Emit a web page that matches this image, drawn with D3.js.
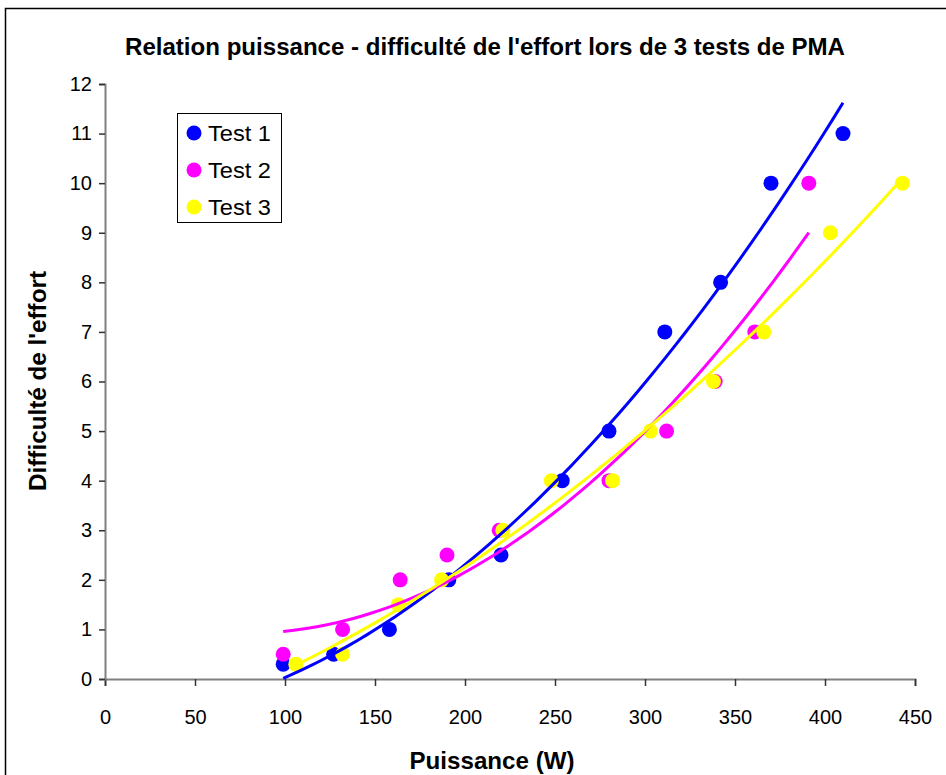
<!DOCTYPE html>
<html><head><meta charset="utf-8">
<script src="https://cdn.jsdelivr.net/npm/d3@7/dist/d3.min.js"></script>
<style>body{margin:0;background:#fff}svg{display:block}</style>
</head><body>
<svg id="chart" width="946" height="775"></svg>
<script>
const titleText = "Relation puissance - difficulté de l'effort lors de 3 tests de PMA";
const xAxisTitle = "Puissance (W)";
const yAxisTitle = "Difficulté de l'effort";
const seriesNames = ["Test 1", "Test 2", "Test 3"];
const seriesColors = ["#0000FF", "#FF00FF", "#FFFF00"];
const test1X = [99, 127, 158, 191, 220, 254, 280, 311, 342, 370, 410];
const test1Y = [0.3, 0.5, 1, 2, 2.5, 4, 5, 7, 8, 10, 11];
const test2X = [99, 132, 164, 190, 219, 280, 312, 339, 361, 391];
const test2Y = [0.5, 1, 2, 2.5, 3, 4, 5, 6, 7, 10];
const test3X = [106, 132, 163, 187, 221, 248, 282, 303, 338, 366, 403, 443];
const test3Y = [0.3, 0.5, 1.5, 2, 3, 4, 4, 5, 6, 7, 9, 10];
const xTicks = [0, 50, 100, 150, 200, 250, 300, 350, 400, 450];
const yTicks = [0, 1, 2, 3, 4, 5, 6, 7, 8, 9, 10, 11, 12];

const series = [
  {name: seriesNames[0], color: seriesColors[0], xs: test1X, ys: test1Y},
  {name: seriesNames[1], color: seriesColors[1], xs: test2X, ys: test2Y},
  {name: seriesNames[2], color: seriesColors[2], xs: test3X, ys: test3Y}
];

// least-squares polynomial (order 2) trend line, as in the original spreadsheet
function quadFit(xs, ys) {
  let s = [0,0,0,0,0], t = [0,0,0];
  xs.forEach((x, i) => {
    for (let k = 0; k < 5; k++) s[k] += Math.pow(x, k);
    for (let k = 0; k < 3; k++) t[k] += ys[i] * Math.pow(x, k);
  });
  const A = [[s[0], s[1], s[2], t[0]], [s[1], s[2], s[3], t[1]], [s[2], s[3], s[4], t[2]]];
  for (let i = 0; i < 3; i++) {
    for (let j = i + 1; j < 3; j++) {
      const f = A[j][i] / A[i][i];
      for (let k = i; k < 4; k++) A[j][k] -= f * A[i][k];
    }
  }
  const c = [0,0,0];
  for (let i = 2; i >= 0; i--) {
    let v = A[i][3];
    for (let k = i + 1; k < 3; k++) v -= A[i][k] * c[k];
    c[i] = v / A[i][i];
  }
  return x => c[0] + c[1] * x + c[2] * x * x;
}

const svg = d3.select("#chart");
const font = "'Liberation Sans', Arial, sans-serif";
const L = 105, R = 915, T = 84, B = 679;
const x = d3.scaleLinear().domain([0, 450]).range([L, R]);
const y = d3.scaleLinear().domain([0, 12]).range([B, T]);

svg.append("rect").attr("x", 5.5).attr("y", 8.5).attr("width", 960).attr("height", 800)
  .attr("fill", "#fff").attr("stroke", "#000").attr("stroke-width", 1.5);

svg.append("text").attr("x", 485).attr("y", 55).attr("text-anchor", "middle")
  .attr("font-family", font).attr("font-weight", "bold").attr("font-size", 23)
  .attr("textLength", 720).attr("lengthAdjust", "spacingAndGlyphs")
  .text(titleText);

// x axis
const xAxis = svg.append("g").attr("transform", `translate(0,${B})`)
  .call(d3.axisBottom(x).tickValues(xTicks).tickSize(7).tickPadding(24).tickFormat(d3.format("d")));
xAxis.select(".domain").attr("stroke", "#808080").attr("stroke-width", 2);
xAxis.selectAll(".tick line").attr("stroke", "#333").attr("stroke-width", 1.5);
xAxis.selectAll(".tick text").attr("font-family", font).attr("font-size", 20).attr("fill", "#000");

// y axis
const yAxis = svg.append("g").attr("transform", `translate(${L},0)`)
  .call(d3.axisLeft(y).tickValues(yTicks).tickSize(6).tickPadding(7).tickFormat(d3.format("d")));
yAxis.select(".domain").attr("stroke", "#808080").attr("stroke-width", 2);
yAxis.selectAll(".tick line").attr("stroke", "#333").attr("stroke-width", 1.5);
yAxis.selectAll(".tick text").attr("font-family", font).attr("font-size", 20).attr("fill", "#000");

svg.append("text").attr("x", 492).attr("y", 769).attr("text-anchor", "middle")
  .attr("font-family", font).attr("font-weight", "bold").attr("font-size", 24)
  .attr("textLength", 165).attr("lengthAdjust", "spacingAndGlyphs")
  .text(xAxisTitle);
svg.append("text").attr("transform", "translate(46,381) rotate(-90)").attr("text-anchor", "middle")
  .attr("font-family", font).attr("font-weight", "bold").attr("font-size", 23)
  .attr("textLength", 220).attr("lengthAdjust", "spacingAndGlyphs")
  .text(yAxisTitle);

// markers
series.forEach(s => {
  svg.append("g").selectAll("circle").data(s.xs.map((v, i) => [v, s.ys[i]])).join("circle")
    .attr("cx", d => x(d[0])).attr("cy", d => y(d[1])).attr("r", 7.5).attr("fill", s.color);
});

// trend lines
const line = d3.line().x(d => x(d[0])).y(d => y(d[1]));
series.forEach(s => {
  const f = quadFit(s.xs, s.ys);
  const x0 = d3.min(s.xs), x1 = d3.max(s.xs);
  const pts = d3.range(0, 61).map(i => { const xv = x0 + (x1 - x0) * i / 60; return [xv, f(xv)]; });
  svg.append("path").attr("d", line(pts)).attr("fill", "none")
    .attr("stroke", s.color).attr("stroke-width", 3);
});

// legend
const lg = svg.append("g");
lg.append("rect").attr("x", 177.5).attr("y", 113.5).attr("width", 104).attr("height", 109)
  .attr("fill", "#fff").attr("stroke", "#000").attr("stroke-width", 1);
series.forEach((s, i) => {
  const cy = 133 + i * 37;
  lg.append("circle").attr("cx", 194).attr("cy", cy).attr("r", 7.5).attr("fill", s.color);
  lg.append("text").attr("x", 208).attr("y", cy + 8).attr("font-family", font)
    .attr("font-size", 22).attr("textLength", 63).attr("lengthAdjust", "spacingAndGlyphs")
    .text(s.name);
});
</script>
</body></html>
